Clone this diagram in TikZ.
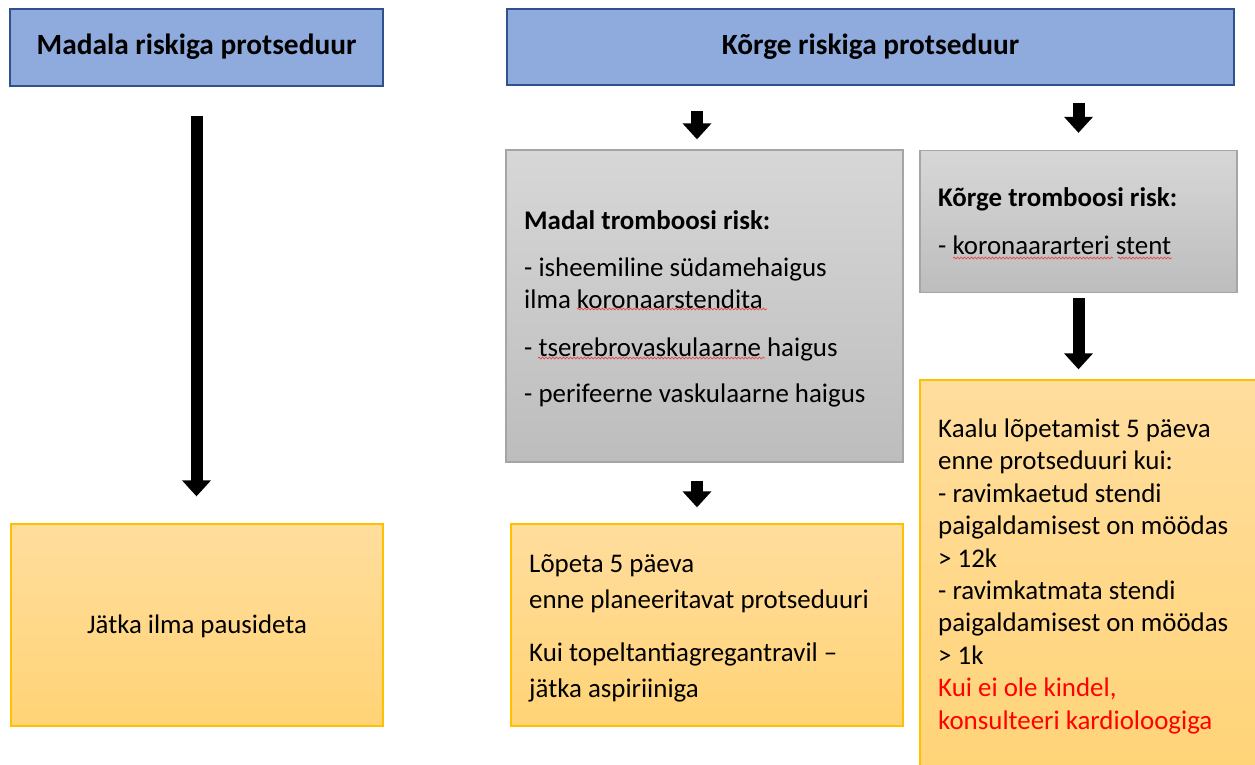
\documentclass[tikz,border=0pt]{standalone}
\usepackage{fontspec}
\setmainfont{Carlito}
\usetikzlibrary{arrows.meta,calc,decorations.pathmorphing}
\definecolor{bluefill}{RGB}{143,170,220}
\definecolor{blueline}{RGB}{47,82,143}
\definecolor{graytop}{RGB}{215,215,215}
\definecolor{graybot}{RGB}{189,189,189}
\definecolor{grayline}{RGB}{165,165,165}
\definecolor{orangetop}{RGB}{255,221,157}
\definecolor{orangebot}{RGB}{255,211,118}
\definecolor{orangeline}{RGB}{255,192,0}
\definecolor{textred}{RGB}{255,0,0}
\definecolor{squig}{RGB}{232,70,70}
\begin{document}
\begin{tikzpicture}[x=1pt,y=-1pt,
  bluebox/.style={draw=blueline,line width=2pt,fill=bluefill,inner sep=0pt,font=\bfseries\fontsize{29.33}{35}\selectfont},
  graybox/.style={draw=grayline,line width=1.3pt,top color=graytop,bottom color=graybot,inner sep=0pt},
  orangebox/.style={draw=orangeline,line width=1.3pt,top color=orangetop,bottom color=orangebot,inner sep=0pt,font=\fontsize{26.8}{32.4}\selectfont},
  blockarrow/.style={line width=12pt,draw=black,-{Triangle[width=28pt,length=16pt]}},
  bodytext/.style={inner sep=0pt,anchor=base west,align=left},
  spell/.style={draw=squig,line width=0.7pt,decorate,decoration={snake,amplitude=0.9pt,segment length=3.5pt}}
]
\useasboundingbox (0,0) rectangle (1255,765);
\clip (0,0) rectangle (1255,765);

% boxes
\node[bluebox,minimum width=373pt,minimum height=77pt] (madala) at (196.5,47.5) {\raisebox{-7.5pt}[0pt][0pt]{Madala riskiga protseduur}};
\node[bluebox,minimum width=727pt,minimum height=76pt] (korge) at (870.5,47.5) {\raisebox{-7.5pt}[0pt][0pt]{Kõrge riskiga protseduur}};
\node[graybox,minimum width=397pt,minimum height=312pt] (gray1) at (704.5,306) {};
\node[graybox,minimum width=317pt,minimum height=142pt] (gray2) at (1078.5,221.5) {};
\node[orangebox,minimum width=372pt,minimum height=202pt] (jatka) at (197,625) {\raisebox{-8pt}[0pt][0pt]{Jätka ilma pausideta}};
\node[orangebox,minimum width=392pt,minimum height=202pt] (lopeta) at (707,625) {};
\node[orangebox,minimum width=355pt,minimum height=410pt] (kaalu) at (1097.5,585) {};

% texts (anchor = baseline of the last line)
\node[bodytext,font=\fontsize{26.9}{32}\selectfont] (t1) at (524,402)
  {\textbf{Madal tromboosi risk:}\\[15pt]
   - isheemiline südamehaigus\\
   ilma koronaarstendita\\[16pt]
   - tserebrovaskulaarne haigus\\[14pt]
   - perifeerne vaskulaarne haigus};
\node[bodytext,font=\fontsize{26.9}{32}\selectfont] (t2) at (938,254)
  {\textbf{Kõrge tromboosi risk:}\\[16pt]
   - koronaararteri stent};
\node[bodytext,font=\fontsize{26.9}{35.5}\selectfont] (t3) at (529,697)
  {Lõpeta 5 päeva\\
   enne planeeritavat protseduuri\\[18pt]
   Kui topeltantiagregantravil –\\
   jätka aspiriiniga};
\node[bodytext,font=\fontsize{26.9}{32.4}\selectfont] (t4) at (938,729)
  {Kaalu lõpetamist 5 päeva\\
   enne protseduuri kui:\\
   - ravimkaetud stendi\\
   paigaldamisest on möödas\\
   > 12k\\
   - ravimkatmata stendi\\
   paigaldamisest on möödas\\
   > 1k\\
   \textcolor{textred}{Kui ei ole kindel,}\\
   \textcolor{textred}{konsulteeri kardioloogiga}};

% spelling marks
\draw[spell] (577,309) -- (767,309);
\draw[spell] (538,358) -- (765,358);
\draw[spell] (953,258) -- (1113,258);
\draw[spell] (1118,258) -- (1172,258);

% arrows
\draw[blockarrow] ($(madala.south)+(0,29)$) -- ($(jatka.north)+(-0.5,-27)$);
\draw[blockarrow] ($(gray1.north)+(-7.5,-38)$) -- ($(gray1.north)+(-7.5,-10)$);
\draw[blockarrow] ($(gray2.north)+(0,-47)$) -- ($(gray2.north)+(0,-17)$);
\draw[blockarrow] ($(gray2.south)+(0,5)$) -- ($(gray2.south |- kaalu.north)+(0,-10)$);
\draw[blockarrow] ($(gray1.south)+(-7.5,18)$) -- ($(lopeta.north)+(-10,-16)$);
\end{tikzpicture}
\end{document}
